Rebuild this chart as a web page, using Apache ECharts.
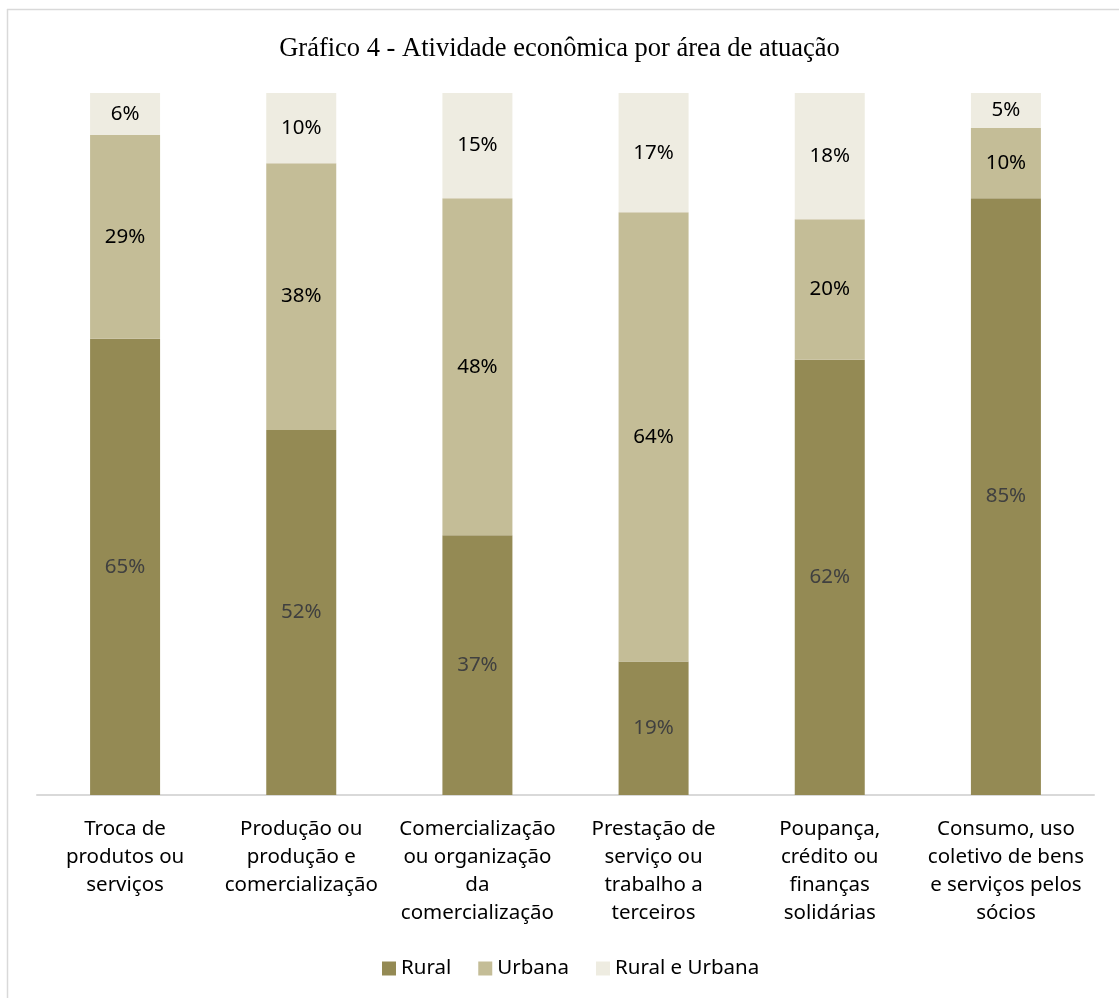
<!DOCTYPE html>
<html>
<head>
<meta charset="utf-8">
<script src="https://cdn.jsdelivr.net/npm/echarts@6/dist/echarts.min.js"></script>
<style>
html,body{margin:0;padding:0;background:#fff;}
#chart{width:1119px;height:998px;}
</style>
</head>
<body>
<div id="chart"></div>
<script>
const categories = [
  "Troca de\nprodutos ou\nserviços",
  "Produção ou\nprodução e\ncomercialização",
  "Comercialização\nou organização\nda\ncomercialização",
  "Prestação de\nserviço ou\ntrabalho a\nterceiros",
  "Poupança,\ncrédito ou\nfinanças\nsolidárias",
  "Consumo, uso\ncoletivo de bens\ne serviços pelos\nsócios"
];
const rural = [65, 52, 37, 19, 62, 85];
const urbana = [29, 38, 48, 64, 20, 10];
const ruralUrbana = [6, 10, 15, 17, 18, 5];
const seriesNames = ["Rural", "Urbana", "Rural e Urbana"];
const titleText = "Gráfico 4 - Atividade econômica por área de atuação";

const font = "'Noto Sans', sans-serif";
const fs = 20.5;
const chart = echarts.init(document.getElementById('chart'));
function mk(name, data, color, labelColor) {
  return {
    name: name, type: 'bar', stack: 'total', data: data, barWidth: 70,
    itemStyle: { color: color },
    label: { show: true, position: 'inside', formatter: '{c}%', color: labelColor,
             fontFamily: font, fontSize: fs },
    emphasis: { disabled: true }
  };
}
chart.setOption({
  animation: false,
  title: { text: titleText, left: 'center', top: 31,
           textStyle: { fontFamily: "'Liberation Serif', 'Times New Roman', serif", fontSize: 26.5,
                        fontWeight: 'normal', color: '#000' } },
  legend: { bottom: 14, left: 377, itemWidth: 14, itemHeight: 14, itemGap: 27,
            icon: 'rect',
            textStyle: { fontFamily: font, fontSize: fs, color: '#000' },
            data: seriesNames },
  grid: { left: 37, right: 25, top: 93, bottom: 203, containLabel: false },
  xAxis: { type: 'category', data: categories,
           axisLine: { lineStyle: { color: '#d9d9d9', width: 2 } },
           axisTick: { show: false },
           axisLabel: { interval: 0, margin: 20, fontFamily: font, fontSize: fs, color: '#000',
                        lineHeight: 28 } },
  yAxis: { type: 'value', min: 0, max: 100, show: false, splitLine: { show: false } },
  graphic: [
    { type: 'line', shape: { x1: 7.5, y1: 9, x2: 7.5, y2: 998 }, style: { stroke: '#d9d9d9', lineWidth: 1.5 } },
    { type: 'line', shape: { x1: 7, y1: 9.5, x2: 1119, y2: 9.5 }, style: { stroke: '#d9d9d9', lineWidth: 1.5 } }
  ],
  series: [
    mk(seriesNames[0], rural, '#948A54', '#404040'),
    mk(seriesNames[1], urbana, '#C4BD97', '#000'),
    mk(seriesNames[2], ruralUrbana, '#EEECE1', '#000')
  ]
});
</script>
</body>
</html>
